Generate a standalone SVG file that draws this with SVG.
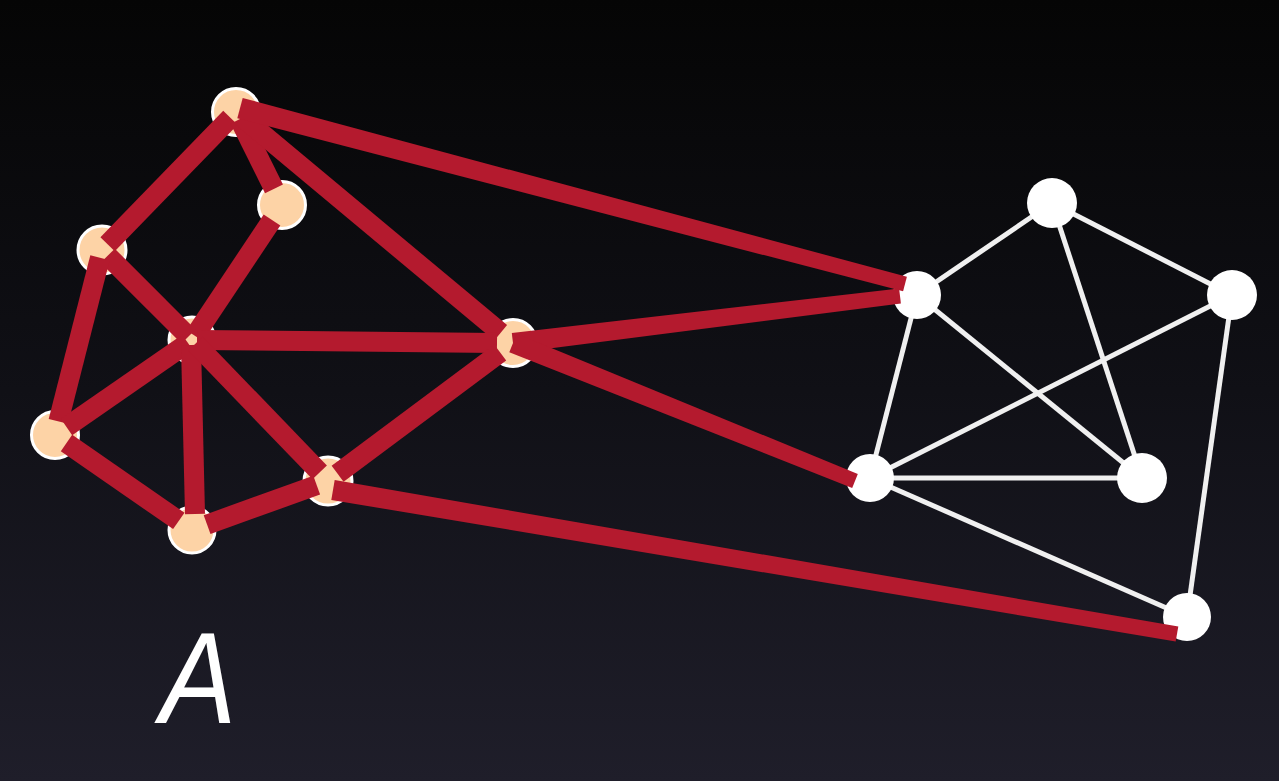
<svg xmlns="http://www.w3.org/2000/svg" width="1279" height="781" viewBox="0 0 1279 781">
<defs>
<linearGradient id="bg" x1="0" y1="0" x2="0" y2="1">
<stop offset="0" stop-color="#050505"/>
<stop offset="0.5" stop-color="#101016"/>
<stop offset="1" stop-color="#1f1e2a"/>
</linearGradient>
<style>
.red{stroke:#b41a2e;stroke-width:20;stroke-linecap:butt;fill:none}
.redp{fill:#b41a2e}
.wht{stroke:#f0f0f0;stroke-width:5;fill:none}
.pn{fill:#fdd3a6;stroke:#ffffff;stroke-width:3}
.wn{fill:#ffffff}
.lbl{font-family:"Liberation Sans",Arial,sans-serif;font-style:italic;font-size:130px;fill:#ffffff}
</style>
</defs>
<rect width="1279" height="781" fill="url(#bg)"/>
<g id="white-edges">
<line class="wht" x1="1052" y1="203" x2="917" y2="295"/>
<line class="wht" x1="1052" y1="203" x2="1232" y2="295"/>
<line class="wht" x1="1052" y1="203" x2="1142" y2="478"/>
<line class="wht" x1="917" y1="295" x2="1142" y2="478"/>
<line class="wht" x1="917" y1="295" x2="870" y2="478"/>
<line class="wht" x1="1232" y1="295" x2="870" y2="478"/>
<line class="wht" x1="1232" y1="295" x2="1187" y2="617"/>
<line class="wht" x1="870" y1="478" x2="1142" y2="478"/>
<line class="wht" x1="870" y1="478" x2="1187" y2="617"/>
</g>
<g id="nodes-right">
<g id="b1"><circle class="wn" cx="1052" cy="203" r="25"/></g>
<g id="b2"><circle class="wn" cx="917" cy="295" r="24"/></g>
<g id="b3"><circle class="wn" cx="1232" cy="295" r="25"/></g>
<g id="b4"><circle class="wn" cx="1142" cy="478" r="25"/></g>
<g id="b5"><circle class="wn" cx="870" cy="478" r="24"/></g>
<g id="b6"><circle class="wn" cx="1187" cy="617" r="24"/></g>
</g>
<g id="nodes-left">
<g id="a1"><circle class="pn" cx="236" cy="112" r="23.5"/></g>
<g id="a2"><circle class="pn" cx="282" cy="205" r="23.5"/></g>
<g id="a3"><circle class="pn" cx="102" cy="250" r="24"/></g>
<g id="a4"><circle class="pn" cx="192" cy="340" r="23"/></g>
<g id="a5"><circle class="pn" cx="513" cy="343" r="23.5"/></g>
<g id="a6"><circle class="pn" cx="55" cy="435" r="23.5"/></g>
<g id="a7"><circle class="pn" cx="328" cy="481" r="24"/></g>
<g id="a8"><circle class="pn" cx="192" cy="530" r="23"/></g>
</g>
<g id="red-edges">
<line class="red" x1="230.4" y1="117.7" x2="107.6" y2="244.3"/>
<line class="red" x1="239.5" y1="119.2" x2="274" y2="188.9"/>
<line class="red" x1="242.1" y1="117.1" x2="500.7" y2="332.8"/>
<line class="red" x1="272" y1="220" x2="194.8" y2="335.8"/>
<line class="red" x1="107.7" y1="255.7" x2="188.5" y2="336.5"/>
<line class="red" x1="100" y1="257.8" x2="58.4" y2="421.4"/>
<line class="red" x1="197" y1="340" x2="497" y2="342.9"/>
<line class="red" x1="187.9" y1="342.9" x2="66.5" y2="427"/>
<line class="red" x1="191" y1="345" x2="195" y2="514"/>
<line class="red" x1="195.5" y1="343.6" x2="319.7" y2="472.4"/>
<line class="red" x1="500.2" y1="352.6" x2="337.6" y2="473.8"/>
<line class="red" x1="66.5" y1="443" x2="178.8" y2="520.9"/>
<line class="red" x1="207.1" y1="524.6" x2="316.7" y2="485.1"/>
<polygon class="redp" points="242.7,97.9 906.9,276.8 903.1,291.3 237.3,118.2"/>
<polygon class="redp" points="511.8,333.1 899.1,288.6 900.9,303.4 514.2,352.9"/>
<polygon class="redp" points="516.7,333.7 857.8,474 852.2,488 509.3,352.3"/>
<polygon class="redp" points="334.7,480.1 1178.3,626.6 1175.7,641.4 331.3,499.9"/>
</g>
<text class="lbl" transform="translate(160,723) scale(0.88,1)">A</text>
</svg>
